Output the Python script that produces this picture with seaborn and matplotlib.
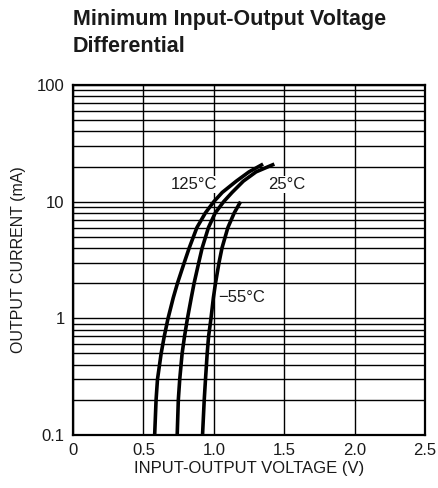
import matplotlib
matplotlib.use("Agg")
import matplotlib.pyplot as plt
import matplotlib.ticker as mticker
import numpy as np
import pandas as pd
import seaborn as sns

# ---- data ----
current_125 = [0.1, 0.2, 0.3, 0.5, 0.7, 1, 1.5, 2, 3, 4, 6, 8, 10, 12, 15, 18, 21]
volt_125 = [0.58, 0.59, 0.60, 0.626, 0.648, 0.675, 0.712, 0.742, 0.79, 0.825,
            0.88, 0.94, 1.00, 1.06, 1.16, 1.25, 1.35]
current_25 = [0.1, 0.2, 0.3, 0.5, 0.7, 1, 1.5, 2, 3, 4, 6, 8, 10, 12, 15, 18, 21]
volt_25 = [0.74, 0.748, 0.758, 0.775, 0.792, 0.813, 0.84, 0.86, 0.893, 0.917,
           0.962, 1.01, 1.07, 1.13, 1.21, 1.30, 1.43]
current_m55 = [0.1, 0.2, 0.3, 0.5, 0.7, 1, 1.5, 2, 3, 4, 6, 8, 10]
volt_m55 = [0.92, 0.932, 0.941, 0.953, 0.963, 0.98, 0.997, 1.012, 1.037, 1.058,
            1.10, 1.145, 1.19]
series_labels = ["125°C", "25°C", "−55°C"]
x_ticks = [0, 0.5, 1.0, 1.5, 2.0, 2.5]
x_tick_labels = ["0", "0.5", "1.0", "1.5", "2.0", "2.5"]
y_ticks = [0.1, 1, 10, 100]
y_tick_labels = ["0.1", "1", "10", "100"]

frames = []
for lab, v, c in zip(series_labels, [volt_125, volt_25, volt_m55],
                     [current_125, current_25, current_m55]):
    frames.append(pd.DataFrame({"V": v, "I": c, "T": lab}))
df = pd.concat(frames, ignore_index=True)

sns.set_style("white")
plt.rcParams["font.family"] = ["Liberation Sans", "DejaVu Sans"]

fig = plt.figure(figsize=(4.38, 4.88), dpi=100)
ax = fig.add_axes([73 / 438, 1 - 435 / 488, (425 - 73) / 438, (435 - 85) / 488])

sns.lineplot(data=df, x="V", y="I", hue="T", palette=["black"] * 3,
             sort=False, estimator=None, linewidth=2.6, legend=False, ax=ax)
for ln in ax.lines:
    ln.set_solid_joinstyle("round")
    ln.set_solid_capstyle("butt")
    ln.set_zorder(3)

ax.set_yscale("log")
ax.set_xlim(0, 2.5)
ax.set_ylim(0.1, 100)
ax.set_xticks(x_ticks)
ax.set_xticklabels(x_tick_labels)
ax.set_yticks(y_ticks)
ax.set_yticklabels(y_tick_labels)
ax.yaxis.set_minor_locator(mticker.LogLocator(base=10, subs=np.arange(2, 10)))
ax.yaxis.set_minor_formatter(mticker.NullFormatter())
ax.tick_params(axis="both", which="both", length=0, labelsize=12, pad=6, colors="#1a1a1a")
ax.grid(True, which="major", axis="both", color="black", linewidth=1.0)
ax.grid(True, which="minor", axis="y", color="black", linewidth=1.0)
for s in ax.spines.values():
    s.set_color("black")
    s.set_linewidth(1.6)

ax.set_xlabel("INPUT-OUTPUT VOLTAGE (V)", fontsize=12, color="#1a1a1a", labelpad=2)
ax.set_ylabel("OUTPUT CURRENT (mA)", fontsize=11.5, color="#1a1a1a", labelpad=8)

label_pos = [(0.86, 14), (1.52, 14), (1.20, 1.5)]
for lab, (lx, ly) in zip(series_labels, label_pos):
    ax.text(lx, ly, lab, fontsize=12, ha="center", va="center", color="#1a1a1a",
            zorder=2.5, bbox=dict(facecolor="white", edgecolor="none", pad=1))

fig.text(73 / 438, 1 - 9 / 488, "Minimum Input-Output Voltage\nDifferential",
         fontsize=15.5, fontweight="bold", ha="left", va="top", color="#1a1a1a",
         linespacing=1.35)

fig.savefig("out.png", dpi=100)
